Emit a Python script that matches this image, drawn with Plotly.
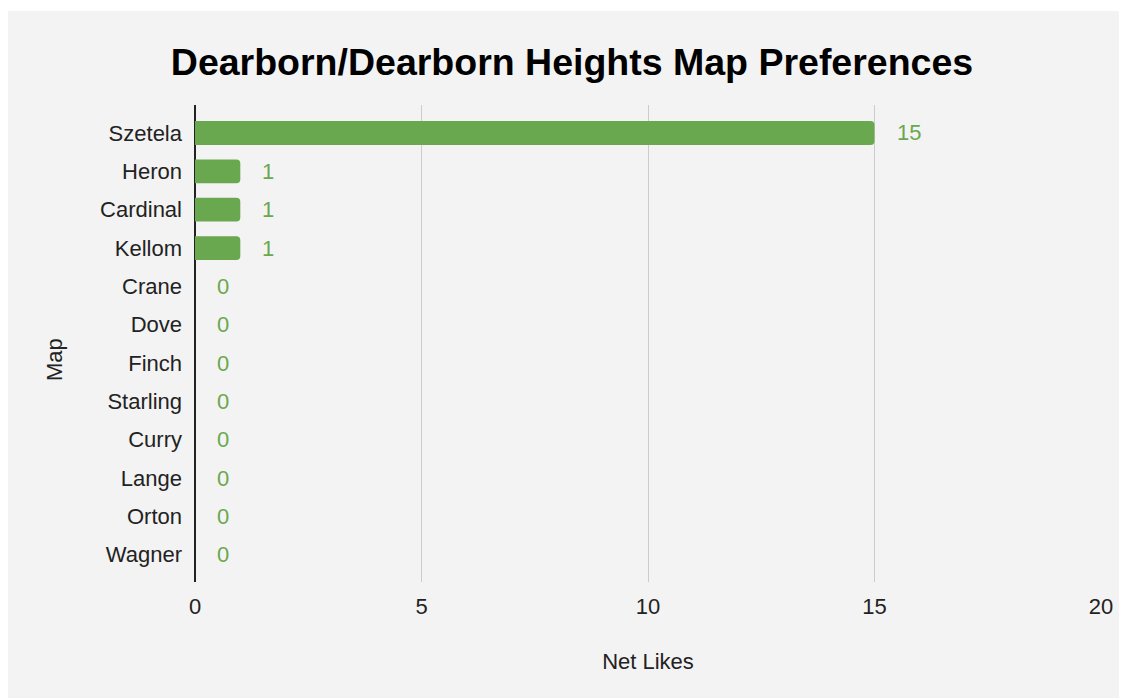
import plotly.graph_objects as go

# dados
mapas = ["Szetela", "Heron", "Cardinal", "Kellom", "Crane", "Dove", "Finch",
         "Starling", "Curry", "Lange", "Orton", "Wagner"]
net_likes = [15, 1, 1, 1, 0, 0, 0, 0, 0, 0, 0, 0]
x_ticks = [0, 5, 10, 15, 20]

VERDE = "#6aa84f"
FUNDO = "#f3f3f3"
FONTE = "Liberation Sans, Arial, sans-serif"

# a página tem 8px de margem no body
W, H = 1119, 690
ML, MR, MT, MB = 187, 26, 97, 116
pw, ph = W - ML - MR, H - MT - MB

fig = go.Figure()
fig.add_trace(go.Bar(
    x=net_likes, y=mapas, orientation="h",
    marker=dict(color=VERDE, line=dict(width=0), cornerradius=4),
    hoverinfo="x+y", showlegend=False,
))

# rótulos de valor
for m, v in zip(mapas, net_likes):
    fig.add_annotation(x=v, y=m, text=str(v), showarrow=False,
                       xanchor="left", xshift=20,
                       font=dict(size=22, color=VERDE, family=FONTE))

# título do eixo Y (um pouco abaixo do centro, como no original)
fig.add_annotation(x=(46 - ML) / pw, y=(H - MB - 352) / ph,
                   xref="paper", yref="paper", text="Map", textangle=-90,
                   showarrow=False, xanchor="center", yanchor="middle",
                   font=dict(size=22, color="#222222", family=FONTE))

# fundo cinza (topo começa 3px abaixo da borda da figura)
fig.add_shape(type="rect", xref="paper", yref="paper", layer="below",
              x0=(0 - ML) / pw, x1=(W + 5 - ML) / pw,
              y0=(H - MB - (H + 5)) / ph, y1=(H - MB - 3) / ph,
              fillcolor=FUNDO, line=dict(width=0))

fig.update_layout(
    width=W, height=H,
    margin=dict(l=ML, r=MR, t=MT, b=MB),
    paper_bgcolor="white", plot_bgcolor="rgba(0,0,0,0)",
    font=dict(family=FONTE, size=22, color="#222222"),
    title=dict(text="<b>Dearborn/Dearborn Heights Map Preferences</b>",
               x=(572 - 8) / W, xanchor="center", xref="container",
               y=1 - (62 - 8) / H, yanchor="middle",
               font=dict(size=37.5, color="#000000", family=FONTE)),
    bargap=0.38,
)

fig.update_xaxes(
    range=[0, 20], tickvals=x_ticks, showgrid=True, gridcolor="#cccccc",
    gridwidth=1, zeroline=True, zerolinecolor="#222222", zerolinewidth=1.5,
    showline=False, ticks="", ticklabelstandoff=9,
    title=dict(text="Net Likes", standoff=35, font=dict(size=22)),
)
fig.update_yaxes(
    categoryorder="array", categoryarray=mapas, range=[11.71, -0.73],
    showgrid=False, zeroline=False, showline=False, ticks="",
    ticklabelstandoff=12,
)

fig.write_html("out.html")
